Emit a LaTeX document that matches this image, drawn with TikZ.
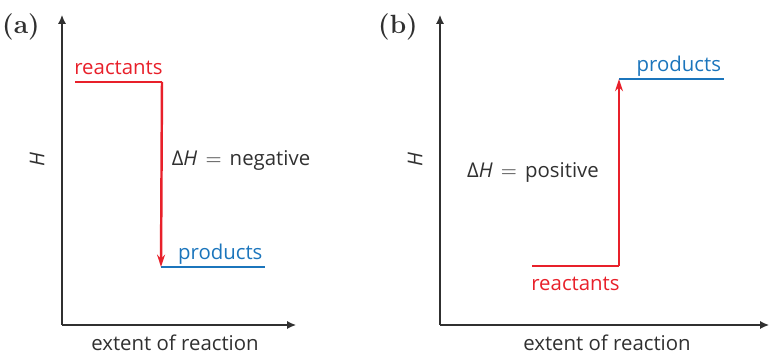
\documentclass[tikz,border=0pt]{standalone}
\usepackage{fontspec}
\usepackage{xcolor}
\newfontfamily\diafont{Open Sans}
\usetikzlibrary{positioning,arrows.meta}
\definecolor{rxnred}{HTML}{E8202A}
\definecolor{rxnblue}{HTML}{1B75BC}
\definecolor{axisgray}{HTML}{303030}

\begin{document}
\begin{tikzpicture}[
  x=0.02cm, y=-0.02cm,
  font=\diafont\fontsize{11.6}{13}\selectfont, >={Stealth[]},
  axis/.style={draw=axisgray,line width=0.7pt,-{Latex[length=5pt,width=4.5pt]}},
  level/.style={line width=1.4pt},
  jump/.style={draw=rxnred,line width=1.4pt,-{Stealth[length=7pt,width=4.5pt]}},
  tag/.style={font=\rmfamily\bfseries\fontsize{15}{17}\selectfont,text=axisgray},
  txt/.style={text=axisgray}
]
\useasboundingbox (0,0) rectangle (769,354);

% (a) negative
\node[tag] (taga) at (21,27) {(a)};
\coordinate (oa) at (62,325);
\coordinate (ya) at (62,15);
\coordinate (xa) at (296,325);
\draw[axis] (oa) -- (ya);
\draw[axis] (oa) -- (xa);
\node[txt,rotate=90] (ha) at (37,160) {\textit{H}};
\node[txt] (exta) at (175,343) {extent of reaction};
\coordinate (ra1) at (75,82);
\coordinate (ra2) at (162,82);
\coordinate (pa1) at (161,267);
\coordinate (pa2) at (265,267);
\draw[level,rxnred] (ra1) -- (ra2) node[midway,above] (reacta) {reactants};
\draw[level,rxnblue] (pa1) -- (pa2) node[pos=0.57,above,inner sep=1pt] (proda) {products};
\draw[jump] (ra2) -- (pa1);
\node[txt] (dha) at (241,160) {Δ\textit{H}\hspace{0.4em}\(=\)\hspace{0.4em}negative};

% (b) positive
\node[tag] (tagb) at (398,27) {(b)};
\coordinate (ob) at (440,325);
\coordinate (yb) at (440,15);
\coordinate (xb) at (769,325);
\draw[axis] (ob) -- (yb);
\draw[axis] (ob) -- (xb);
\node[txt,rotate=90] (hb) at (415,160) {\textit{H}};
\node[txt] (extb) at (607,343) {extent of reaction};
\coordinate (rb1) at (532,266);
\coordinate (rb2) at (619,266);
\coordinate (pb1) at (619,79);
\coordinate (pb2) at (724,79);
\draw[level,rxnred] (rb1) -- (rb2) node[midway,below=2pt] (reactb) {reactants};
\draw[level,rxnblue] (pb1) -- (pb2) node[pos=0.57,above,inner sep=1pt] (prodb) {products};
\draw[jump] (rb2) -- (pb1);
\node[txt] (dhb) at (533,172) {Δ\textit{H}\hspace{0.4em}\(=\)\hspace{0.4em}positive};
\end{tikzpicture}
\end{document}
